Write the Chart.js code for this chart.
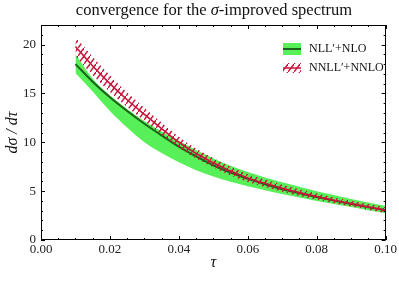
<!DOCTYPE html>
<html><head><meta charset="utf-8">
<script src="https://cdn.jsdelivr.net/npm/chart.js@4/dist/chart.umd.min.js"></script>
<style>html,body{margin:0;padding:0;background:#fff;}</style>
</head><body>
<canvas id="c" width="399" height="281"></canvas>
<script>
const tau = [0.010,0.015,0.020,0.025,0.030,0.035,0.040,0.045,0.050,0.055,0.060,0.065,0.070,0.075,0.080,0.085,0.090,0.095,0.100];
const nllCentral = [18.0,16.2,14.6,13.2,11.9,10.7,9.55,8.55,7.65,6.9,6.25,5.7,5.2,4.78,4.4,4.03,3.68,3.35,3.05];
const nllUpper   = [19.0,16.5,14.8,13.4,12.15,11.1,10.15,9.2,8.35,7.6,6.95,6.4,5.9,5.45,5.0,4.6,4.2,3.85,3.5];
const nllLower   = [17.1,15.2,13.2,11.5,10.0,8.9,7.95,7.15,6.5,5.95,5.5,5.1,4.7,4.35,4.0,3.68,3.38,3.05,2.75];
const nnllCentral = [19.8,17.8,16.0,14.35,12.85,11.4,10.0,8.85,7.9,7.05,6.35,5.8,5.3,4.85,4.45,4.07,3.72,3.38,3.05];
const nnllUpper   = [20.8,18.75,16.85,15.1,13.53,12.02,10.57,9.37,8.38,7.49,6.76,6.18,5.66,5.19,4.77,4.38,4.02,3.68,3.35];
const nnllLower   = [18.8,16.85,15.15,13.6,12.17,10.78,9.43,8.33,7.42,6.61,5.94,5.42,4.94,4.51,4.13,3.76,3.42,3.08,2.75];
const xTicks = [0,0.02,0.04,0.06,0.08,0.10];
const yTicks = [0,5,10,15,20];
const legendLabels = ['NLL\u2032+NLO','NNLL\u2032+NNLO'];

const GREEN_BAND='rgb(88,240,88)', GREEN_LINE='rgb(25,100,25)', RED='rgb(200,22,58)';
const SERIF='"Liberation Serif","DejaVu Serif",serif';
const pts = ys => tau.map((t,i)=>({x:t,y:ys[i]}));

function hatchPattern(){
  const w=6, h=8, c=document.createElement('canvas'); c.width=w; c.height=h;
  const g=c.getContext('2d'); g.strokeStyle=RED; g.lineWidth=1.4; g.beginPath();
  g.moveTo(-w,2*h); g.lineTo(2*w,-h);
  g.stroke(); return g.createPattern(c,'repeat');
}
const hatch = hatchPattern();

const decor = {
  id:'decor',
  afterDatasetsDraw(chart){
    const {ctx, chartArea:a, scales:{x,y}} = chart;
    ctx.save();
    ctx.strokeStyle='#000'; ctx.lineWidth=1;
    ctx.strokeRect(Math.round(a.left)+0.5, Math.round(a.top)+0.5, Math.round(a.right-a.left)-1, Math.round(a.bottom-a.top)-1);
    ctx.beginPath();
    for(let k=0;k<=20;k++){const v=k*0.005, px=Math.round(x.getPixelForValue(v))+0.5, L=(k%4===0)?4:2;
      ctx.moveTo(px,a.bottom); ctx.lineTo(px,a.bottom-L); ctx.moveTo(px,a.top); ctx.lineTo(px,a.top+L);}
    for(let v=0;v<=22;v++){const py=Math.round(y.getPixelForValue(v))+0.5, L=(v%5===0)?4:2;
      ctx.moveTo(a.left,py); ctx.lineTo(a.left+L,py); ctx.moveTo(a.right,py); ctx.lineTo(a.right-L,py);}
    ctx.stroke();
    // title
    ctx.fillStyle='#111'; ctx.textBaseline='alphabetic';
    const p1='convergence for the ', p2='\u03c3', p3='-improved spectrum';
    const F='16.5px '+SERIF, FI='italic 16.5px '+SERIF;
    ctx.font=F; const w1=ctx.measureText(p1).width, w3=ctx.measureText(p3).width;
    ctx.font=FI; const w2=ctx.measureText(p2).width;
    let sx=214-(w1+w2+w3)/2;
    ctx.font=F; ctx.textAlign='left'; ctx.fillText(p1,sx,15);
    ctx.font=FI; ctx.fillText(p2,sx+w1,15);
    ctx.font=F; ctx.fillText(p3,sx+w1+w2,15);
    // axis titles
    ctx.font='italic 16px '+SERIF; ctx.textAlign='center';
    ctx.fillText('\u03c4',(a.left+a.right)/2,267);
    ctx.save(); ctx.translate(17,(a.top+a.bottom)/2); ctx.rotate(-Math.PI/2);
    ctx.fillText('d\u03c3 / d\u03c4',0,0); ctx.restore();
    // legend
    ctx.fillStyle=GREEN_BAND; ctx.fillRect(283,43,18,12);
    ctx.strokeStyle=GREEN_LINE; ctx.lineWidth=2; ctx.beginPath(); ctx.moveTo(283,49); ctx.lineTo(301,49); ctx.stroke();
    ctx.fillStyle=hatch; ctx.fillRect(283,63,18,10);
    ctx.strokeStyle=RED; ctx.lineWidth=1.5; ctx.beginPath(); ctx.moveTo(283,68); ctx.lineTo(301,68); ctx.stroke();
    ctx.fillStyle='#111'; ctx.font='12px '+SERIF; ctx.textAlign='left'; ctx.textBaseline='middle';
    ctx.fillText(legendLabels[0],309,49); ctx.fillText(legendLabels[1],309,68);
    ctx.restore();
  }
};

const noPt={pointRadius:0,pointHoverRadius:0,cubicInterpolationMode:'monotone'};
new Chart(document.getElementById('c'),{
  type:'line',
  data:{datasets:[
    {label:'nllLower',data:pts(nllLower),borderWidth:0,borderColor:'transparent',fill:false,order:10,...noPt},
    {label:'nllUpper',data:pts(nllUpper),borderWidth:0,borderColor:'transparent',backgroundColor:GREEN_BAND,fill:0,order:9,...noPt},
    {label:legendLabels[0],data:pts(nllCentral),borderWidth:2,borderColor:GREEN_LINE,fill:false,order:8,...noPt},
    {label:'nnllLower',data:pts(nnllLower),borderWidth:0,borderColor:'transparent',fill:false,order:7,...noPt},
    {label:'nnllUpper',data:pts(nnllUpper),borderWidth:0,borderColor:'transparent',backgroundColor:hatch,fill:3,order:6,...noPt},
    {label:legendLabels[1],data:pts(nnllCentral),borderWidth:1.6,borderColor:RED,fill:false,order:5,...noPt}
  ]},
  options:{
    responsive:false, animation:false, devicePixelRatio:1,
    layout:{padding:{top:25,right:12,bottom:0,left:0}},
    plugins:{legend:{display:false},tooltip:{enabled:false},title:{display:false}},
    scales:{
      x:{type:'linear',min:0,max:0.1,
        afterBuildTicks:s=>{s.ticks=xTicks.map(v=>({value:v}));},
        afterFit:s=>{s.height=41;},
        grid:{display:false,drawTicks:false},border:{display:false},
        ticks:{padding:2,color:'#222',font:{family:SERIF,size:13},maxRotation:0,callback:v=>v.toFixed(2)}},
      y:{type:'linear',min:0,max:22,
        afterBuildTicks:s=>{s.ticks=yTicks.map(v=>({value:v}));},
        afterFit:s=>{s.width=41;},
        grid:{display:false,drawTicks:false},border:{display:false},
        ticks:{padding:5,color:'#222',font:{family:SERIF,size:13},callback:v=>String(v)}}
    }
  },
  plugins:[decor]
});
</script>
</body></html>
